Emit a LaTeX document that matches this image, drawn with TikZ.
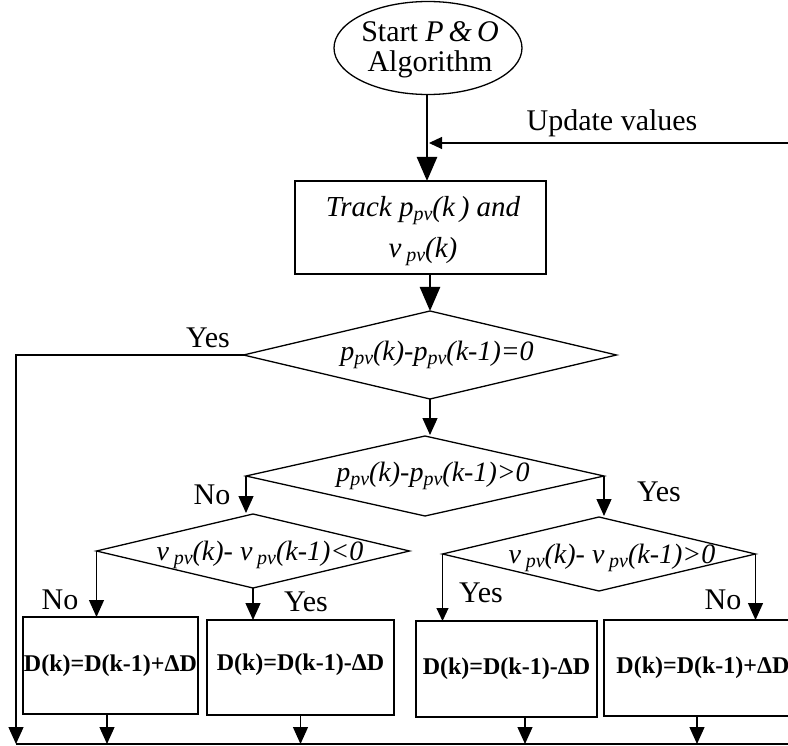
\documentclass[tikz,border=0pt]{standalone}
\usepackage{fontspec}
\setmainfont{Liberation Serif}
\usetikzlibrary{shapes.geometric,arrows.meta}
\newcommand{\sbs}[1]{\raisebox{-0.35ex}{\fontsize{20}{20}\selectfont #1}}
\begin{document}
\begin{tikzpicture}[x=1pt,y=-1pt,
  lbl/.style={font=\fontsize{30}{34}\selectfont, inner sep=0},
  itx/.style={font=\fontsize{28}{34}\selectfont\itshape, inner sep=0, align=center},
  btx/.style={font=\fontsize{24}{26}\selectfont\bfseries, inner sep=0},
  boxst/.style={draw, line width=1.3pt, inner sep=0, outer sep=0},
  dia/.style={draw, diamond, line width=1.3pt, inner sep=0, outer sep=0},
  ell/.style={draw, ellipse, line width=1.3pt, inner sep=0, outer sep=0},
  bigarr/.style={line width=2.5pt, -{Triangle[length=24pt,width=20pt]}},
  arr/.style={line width=1.3pt, -{Triangle[length=17pt,width=15pt]}},
  smarr/.style={line width=1.1pt, -{Triangle[length=13pt,width=12pt]}}
]
\useasboundingbox (0,0) rectangle (788,746);
\clip (0,0) rectangle (788,746);

% start ellipse
\node[ell, minimum width=188pt, minimum height=93pt] (start) at (428,48) {};
\node[lbl, align=center, font=\fontsize{30}{30}\selectfont] (starttxt) at (430,50) {Start \textit{P\,\&\,O}\\Algorithm};

% track box
\node[boxst, minimum width=251pt, minimum height=93pt] (track) at (420.5,227.5) {};
\node[itx, font=\fontsize{29}{41}\selectfont\itshape] (tracktxt) at (423,231) {Track p\sbs{pv}(k\,) and\\v\,\sbs{pv}(k)};

% diamonds
\node[dia, minimum width=373pt, minimum height=88pt] (d1) at (430,355) {};
\node[itx] (d1txt) at (437,355) {p\sbs{pv}(k)-p\sbs{pv}(k-1)=0};
\node[dia, minimum width=358pt, minimum height=80pt] (d2) at (425,476) {};
\node[itx] (d2txt) at (433,476) {p\sbs{pv}(k)-p\sbs{pv}(k-1)>0};
\node[dia, minimum width=313pt, minimum height=74pt] (d3) at (253,551) {};
\node[itx] (d3txt) at (260,555) {v\,\sbs{pv}(k)- v\,\sbs{pv}(k-1)<0};
\node[dia, minimum width=313pt, minimum height=74pt] (d4) at (599,554) {};
\node[itx] (d4txt) at (612,558) {v\,\sbs{pv}(k)- v\,\sbs{pv}(k-1)>0};

% action boxes
\node[boxst, minimum width=175pt, minimum height=97pt] (bA) at (110.5,665.5) {};
\node[btx] (bAt) at (bA) {D(k)=D(k-1)+ΔD};
\node[boxst, minimum width=187pt, minimum height=95pt] (bB) at (300.5,667.5) {};
\node[btx] (bBt) at ([yshift=3pt]bB) {D(k)=D(k-1)-ΔD};
\node[boxst, minimum width=181pt, minimum height=96pt] (bC) at (506.5,669) {};
\node[btx] (bCt) at (bC) {D(k)=D(k-1)-ΔD};
\node[boxst, minimum width=200pt, minimum height=96pt] (bD) at (704,668) {};
\node[btx] (bDt) at ([xshift=-1pt]bD) {D(k)=D(k-1)+ΔD};

% coordinates
\coordinate (upd) at (788,143);
\coordinate (bl) at (16,744);
\coordinate (br) at (790,744);

% labels
\node[lbl] (updl) at (612,123) {Update values};
\node[lbl] (y1) at (208,338) {Yes};
\node[lbl] (n2) at (212,495) {No};
\node[lbl] (y2) at (659,492) {Yes};
\node[lbl] (n3) at (60,600) {No};
\node[lbl] (y3) at (306,602) {Yes};
\node[lbl] (y4) at (481,593) {Yes};
\node[lbl] (n4) at (723,600) {No};

% connectors
\draw[bigarr] ([xshift=-1pt]start.south) -- ([xshift=-1pt]start.south |- track.north);
\draw[smarr] (upd) -- ([xshift=1pt]start.south |- upd);
\draw[bigarr] (d1.north |- track.south) -- (d1.north);
\draw[arr] (d1.west) -| (bl);
\draw[arr] (d1.south) -- ([yshift=1pt]d1.south |- d2.north);
\draw[arr] (d2.west) -- ([yshift=1pt]d2.west |- d3.north);
\draw[arr] (d2.east) -- ([yshift=1pt]d2.east |- d4.north);
\draw[arr] (d3.west) -- (d3.west |- bA.north);
\draw[arr] (d3.south) -- (d3.south |- bB.north);
\draw[smarr] (d4.west) -- (d4.west |- bC.north);
\draw[arr] (d4.east) -- (d4.east |- bD.north);
\draw[arr] ([xshift=-3.5pt]bA.south) -- ([xshift=-3.5pt]bA.south |- bl);
\draw[arr] (bB.south) -- (bB.south |- bl);
\draw[arr] ([xshift=18.5pt]bC.south) -- ([xshift=18.5pt]bC.south |- bl);
\draw[arr] ([xshift=-7pt]bD.south) -- ([xshift=-7pt]bD.south |- bl);
\draw[line width=2.5pt] (bl) -- (br);
\end{tikzpicture}
\end{document}
